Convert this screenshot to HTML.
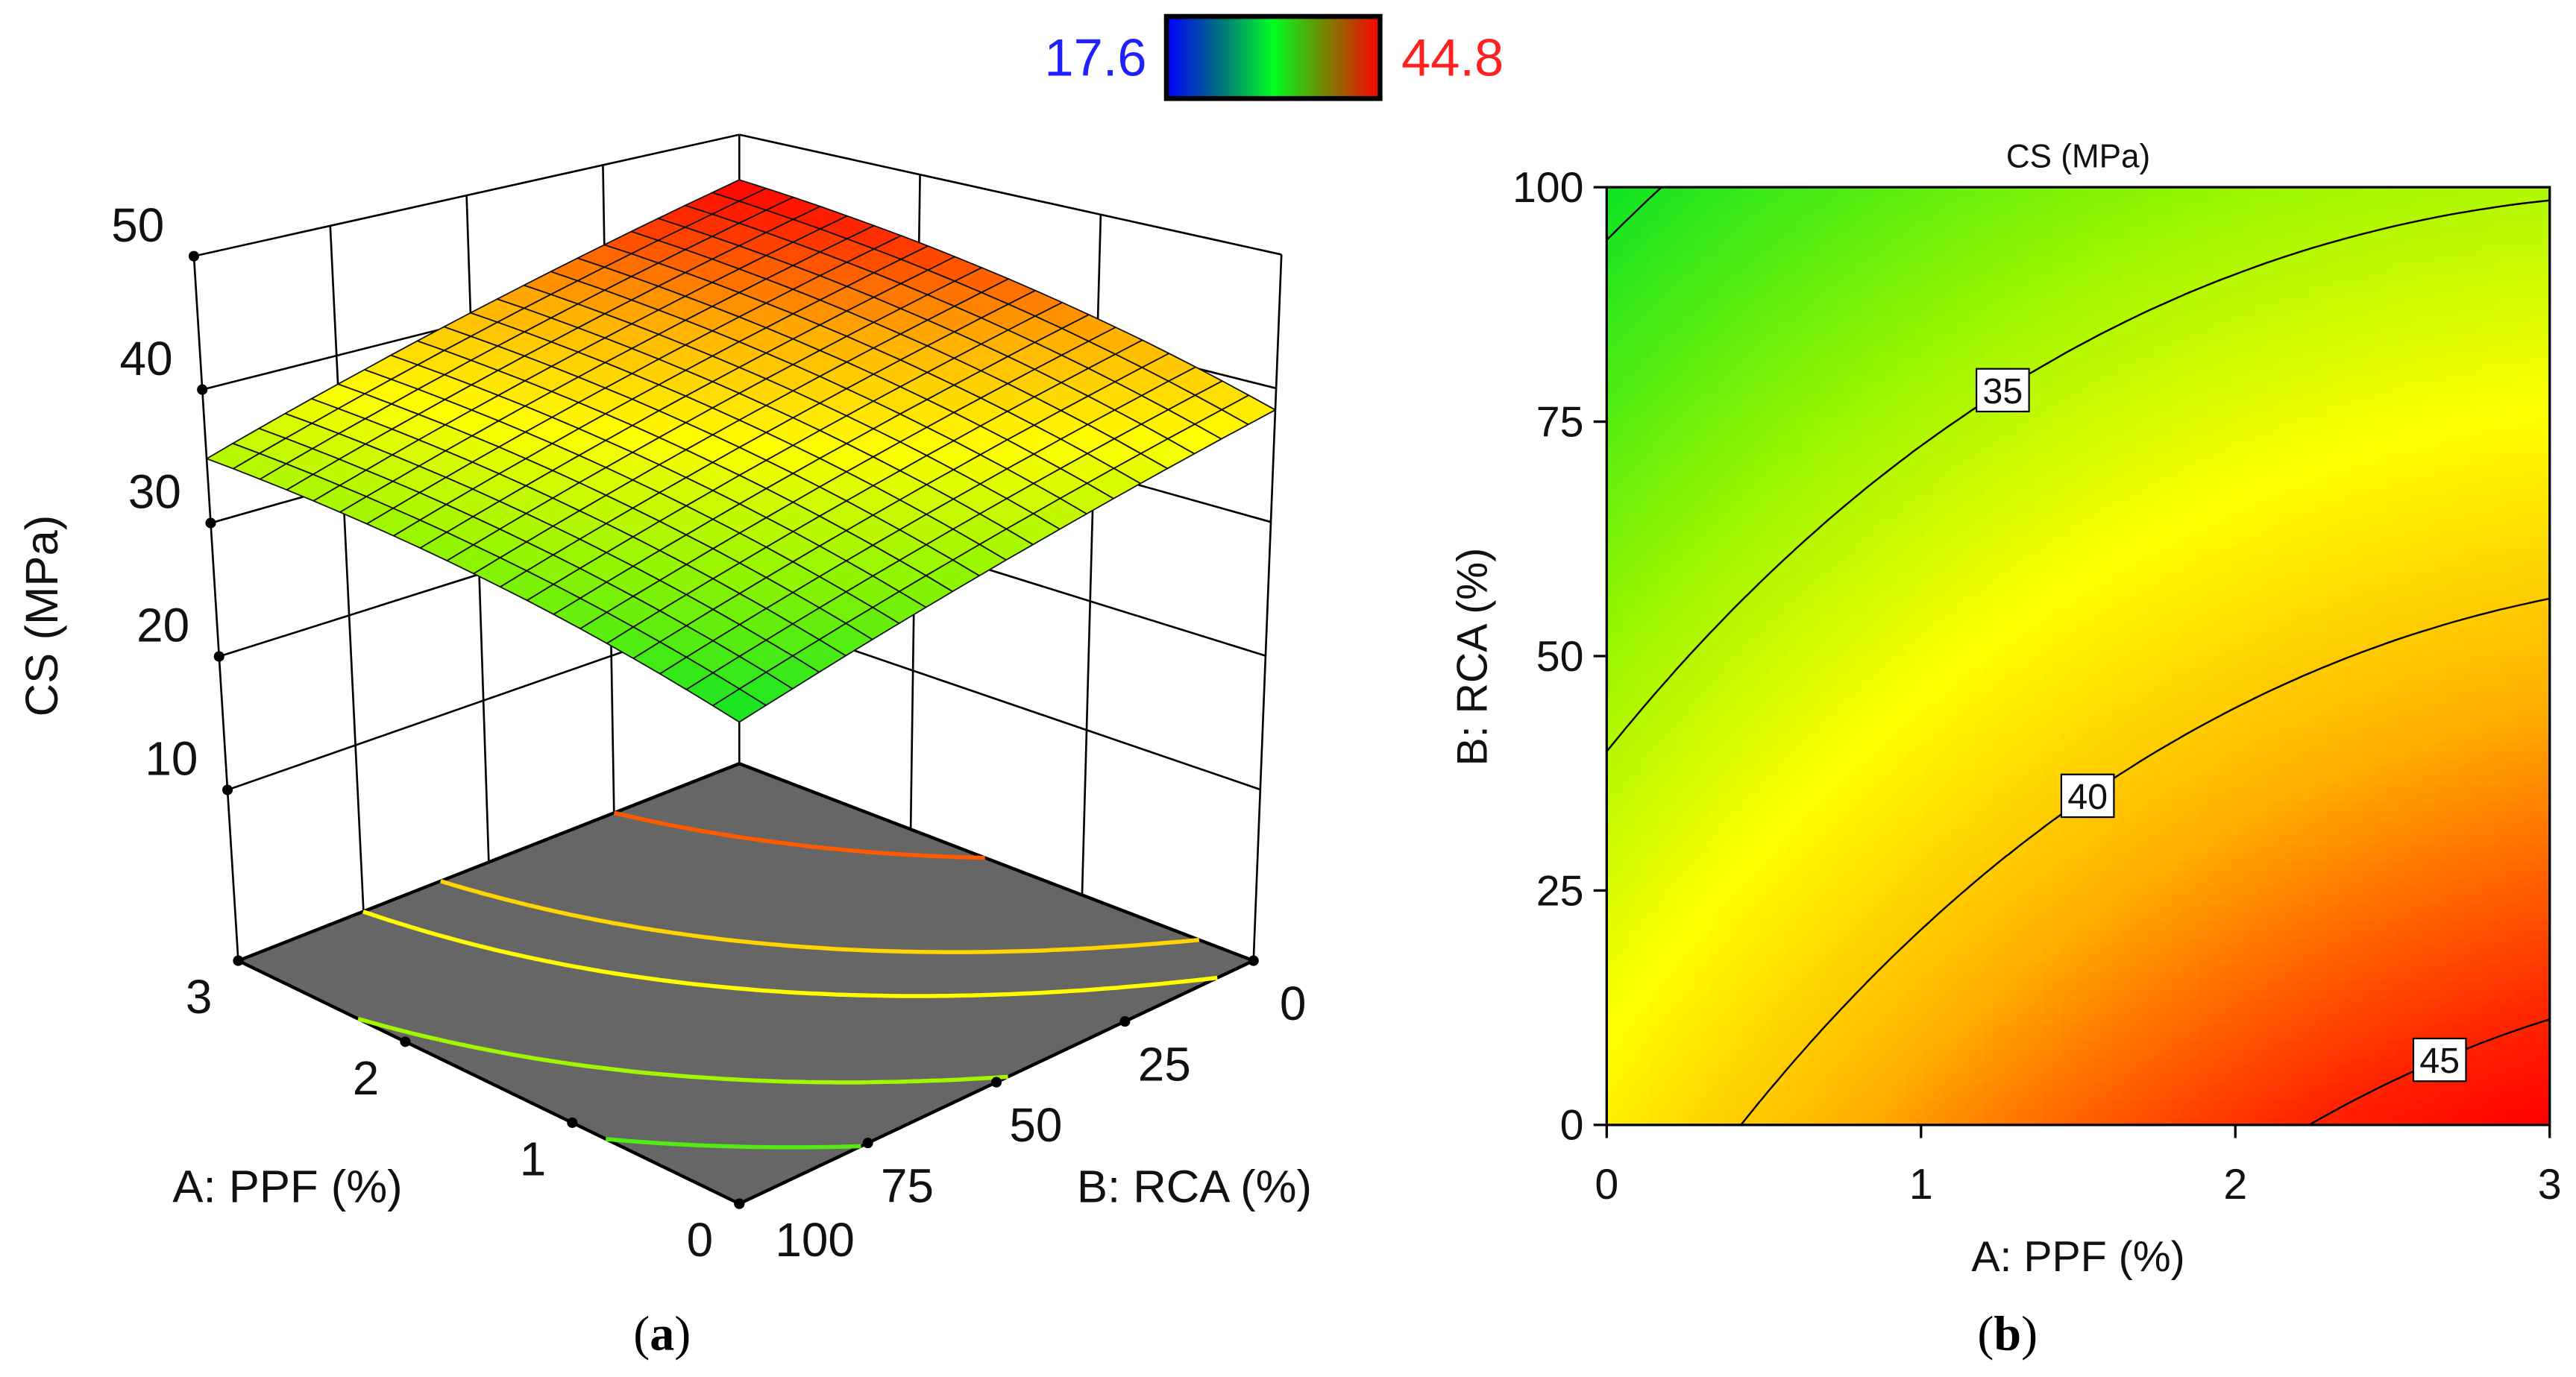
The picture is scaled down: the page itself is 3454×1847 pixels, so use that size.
<!DOCTYPE html>
<html><head><meta charset="utf-8">
<style>
html,body{margin:0;padding:0;background:#fff;}
svg{display:block;font-family:"Liberation Sans","DejaVu Sans",sans-serif;}
</style></head>
<body>
<svg id="root" width="3454" height="1847" viewBox="0 0 1568 838.5" xmlns="http://www.w3.org/2000/svg">
<defs>
<linearGradient id="cbar" x1="0" x2="1" y1="0" y2="0">
<stop offset="0" stop-color="#0000ff"/>
<stop offset="0.25" stop-color="#00707f"/>
<stop offset="0.5" stop-color="#00ff20"/>
<stop offset="0.75" stop-color="#7a8000"/>
<stop offset="1" stop-color="#ff0000"/>
</linearGradient>
</defs>
<g id="colorbar">
<text x="698" y="46" font-size="32" fill="#2020ff" text-anchor="end">17.6</text>
<rect x="710" y="10" width="130" height="50" fill="url(#cbar)" stroke="#000" stroke-width="3"/>
<text x="853" y="46" font-size="32" fill="#ff2020">44.8</text>
</g>
<g id="p3d"></g>
<g id="p2d"></g>
<text x="403" y="822" font-size="30" font-family="Liberation Serif, serif" text-anchor="middle">(<tspan font-weight="bold">a</tspan>)</text>
<text x="1222" y="822" font-size="30" font-family="Liberation Serif, serif" text-anchor="middle">(<tspan font-weight="bold">b</tspan>)</text>
</svg>
<script>
// ---- data ----
const A_VALS = [0, 1, 2, 3];
const B_VALS = [0, 25, 50, 75, 100];
const CS_A0 = [38.3, 36.6, 34.2, 31.8, 29.3];
const CS_A1 = [41.8, 39.4, 37.1, 34.7, 32.2];
const CS_A2 = [44.4, 42.1, 39.6, 36.9, 34.1];
const CS_A3 = [46.5, 43.4, 40.4, 37.8, 34.8];
const Z_TICKS = [10, 20, 30, 40, 50];
const A_TICKS = [0, 1, 2, 3];
const B_TICKS = [0, 25, 50, 75, 100];
const FLOOR_LEVELS = [31.7, 34.3, 37.8, 39.6, 43.5];
const CONTOUR_LEVELS = [30, 35, 40, 45];
const LABEL_LEVELS = [35, 40, 45];
const LABEL_AT_A = [1.26, 1.53, 2.65];
const CMIN = 17.6, CMAX = 44.8;

const NS = "http://www.w3.org/2000/svg";
function mk(tag, attrs, parent){const e=document.createElementNS(NS,tag);for(const k in attrs)e.setAttribute(k,attrs[k]);parent.appendChild(e);return e;}

const GRID=[CS_A0,CS_A1,CS_A2,CS_A3];
function basis(a,b){b=b/100;return [1,a,b,a*a,b*b,a*b];}
const M=[...Array(6)].map(()=>Array(7).fill(0));
A_VALS.forEach((a,i)=>B_VALS.forEach((b,j)=>{const f=basis(a,b);for(let r=0;r<6;r++){for(let c=0;c<6;c++)M[r][c]+=f[r]*f[c];M[r][6]+=f[r]*GRID[i][j];}}));
for(let c=0;c<6;c++){let p=c;for(let r=c+1;r<6;r++)if(Math.abs(M[r][c])>Math.abs(M[p][c]))p=r;[M[c],M[p]]=[M[p],M[c]];for(let r=0;r<6;r++){if(r===c)continue;const f=M[r][c]/M[c][c];for(let k=c;k<7;k++)M[r][k]-=f*M[c][k];}}
const COEF=M.map((r,i)=>r[6]/r[i]);
function cs(a,b){const f=basis(a,b);let s=0;for(let i=0;i<6;i++)s+=COEF[i]*f[i];return s;}

const STOPS=[[0,[0,0,255]],[0.2,[0,110,150]],[0.42,[0,225,40]],[0.6,[150,245,0]],[0.737,[255,255,0]],[0.87,[255,175,0]],[1,[255,40,0]],[1.05,[255,0,0]]];
function color(v){let t=(v-CMIN)/(CMAX-CMIN);t=Math.max(0,Math.min(1.05,t));for(let i=1;i<STOPS.length;i++){if(t<=STOPS[i][0]){const[t0,c0]=STOPS[i-1],[t1,c1]=STOPS[i];const u=(t-t0)/(t1-t0);return `rgb(${c0.map((c,k)=>Math.round(c+(c1[k]-c)*u)).join(',')})`;}}return 'rgb(255,0,0)';}

function contour(level,N){const segs=[];const da=3/N,db=100/N;for(let i=0;i<N;i++)for(let j=0;j<N;j++){const a0=i*da,b0=j*db;const pts=[[a0,b0],[a0+da,b0],[a0+da,b0+db],[a0,b0+db]];const v=pts.map(p=>cs(p[0],p[1]));const cr=[];for(let k=0;k<4;k++){const p=pts[k],q=pts[(k+1)%4],vp=v[k],vq=v[(k+1)%4];if((vp<level)!==(vq<level)){const u=(level-vp)/(vq-vp);cr.push([p[0]+(q[0]-p[0])*u,p[1]+(q[1]-p[1])*u]);}}if(cr.length===2)segs.push(cr);else if(cr.length===4){segs.push([cr[0],cr[1]]);segs.push([cr[2],cr[3]]);}}return segs;}

// ---------- 3D panel ----------
const g3=document.getElementById('p3d');
const ZF=-2.8, ZT=50;
const FL={R:[763,585],K:[450,465],F:[450,733],L:[145,585]};
const TP={R:[780,155],K:[450,82],F:[450,253],L:[118,156]};
function proj(a,b,z){const t=(z-ZF)/(ZT-ZF);const c={};for(const k in FL)c[k]=[FL[k][0]+(TP[k][0]-FL[k][0])*t,FL[k][1]+(TP[k][1]-FL[k][1])*t];const u=a/3,v=b/100;const w={R:(1-u)*(1-v),K:u*(1-v),F:(1-u)*v,L:u*v};let x=0,y=0;for(const k in w){x+=w[k]*c[k][0];y+=w[k]*c[k][1];}return [x,y];}
function line3(p,q,name){const e=mk('line',{x1:p[0],y1:p[1],x2:q[0],y2:q[1],stroke:'#000','stroke-width':1.2},g3);return e;}
line3(proj(3,100,ZF),proj(3,100,ZT),'z-axis-line');
line3(proj(3,0,ZF),proj(3,0,ZT),'back-corner-line');
line3(proj(0,0,ZF),proj(0,0,ZT),'right-wall-edge');
Z_TICKS.forEach(z=>{line3(proj(3,100,z),proj(3,0,z),'left-wall-gridline');line3(proj(3,0,z),proj(0,0,z),'right-wall-gridline');});
B_TICKS.slice(1,4).forEach(b=>line3(proj(3,b,ZF),proj(3,b,ZT),'left-wall-vertical'));
A_TICKS.slice(1,3).forEach(a=>line3(proj(a,0,ZF),proj(a,0,ZT),'right-wall-vertical'));
const fp=[proj(0,0,ZF),proj(3,0,ZF),proj(3,100,ZF),proj(0,100,ZF)];
const floor=mk('polygon',{points:fp.map(p=>p.join(',')).join(' '),fill:'#666666',stroke:'#000','stroke-width':2},g3);


FLOOR_LEVELS.forEach(lv=>{const segs=contour(lv,50);let d='';segs.forEach(s=>{const p=proj(s[0][0],s[0][1],ZF),q=proj(s[1][0],s[1][1],ZF);d+=`M${p[0].toFixed(1)},${p[1].toFixed(1)}L${q[0].toFixed(1)},${q[1].toFixed(1)}`;});const e=mk('path',{d:d,stroke:color(lv),'stroke-width':2.5,fill:'none'},g3);});
const NS_=20;const cells=[];
for(let i=0;i<NS_;i++)for(let j=0;j<NS_;j++){const a0=3*i/NS_,a1=3*(i+1)/NS_,b0=100*j/NS_,b1=100*(j+1)/NS_;cells.push({a0,a1,b0,b1,depth:(a0+a1)/6+1-(b0+b1)/200});}
cells.sort((x,y)=>y.depth-x.depth);
const gs=mk('g',{},g3);


cells.forEach(c=>{const pts=[[c.a0,c.b0],[c.a1,c.b0],[c.a1,c.b1],[c.a0,c.b1]].map(p=>proj(p[0],p[1],cs(p[0],p[1])));const v=cs((c.a0+c.a1)/2,(c.b0+c.b1)/2);const e=mk('polygon',{points:pts.map(p=>p[0].toFixed(1)+','+p[1].toFixed(1)).join(' '),fill:color(v),stroke:'#111','stroke-width':0.8,'stroke-linejoin':'round'},gs);});
function dot(p,name){const e=mk('circle',{cx:p[0],cy:p[1],r:3.2,fill:'#000'},g3);}
function txt(x,y,s,size,name,anchor,parent){const e=mk('text',{x:x,y:y,'font-size':size,'text-anchor':anchor||'middle',fill:'#111'},parent||g3);e.textContent=s;return e;}
Z_TICKS.forEach(z=>{const p=proj(3,100,z);dot(p,'z-tick');txt(p[0]-18,p[1]-9,String(z),29,'z-tick-label','end');});
A_TICKS.forEach(a=>{const p=proj(a,100,ZF);dot(p,'a-tick');txt(p[0]-24,p[1]+32,String(a),29,'a-tick-label','middle');});
B_TICKS.forEach(b=>{const p=proj(0,b,ZF);dot(p,'b-tick');txt(p[0]+(b===100?46:24),p[1]+(b===100?32:36),String(b),29,'b-tick-label','middle');});
const zt=txt(0,0,'CS (MPa)',28,'z-axis-title','middle');zt.setAttribute('transform','translate(35,375) rotate(-90)');
txt(175,732,'A: PPF (%)',28,'a-axis-title','middle');
txt(727,732,'B: RCA (%)',28,'b-axis-title','middle');

// ---------- 2D contour panel ----------
const g2=document.getElementById('p2d');
const X0=978,X1=1552,Y0=685,Y1=114;
function cx(a){return X0+(a/3)*(X1-X0);}
function cy(b){return Y0-(b/100)*(Y0-Y1);}
const NH=110;const hm=mk('g',{'shape-rendering':'crispEdges'},g2);


for(let i=0;i<NH;i++)for(let j=0;j<NH;j++){const a0=3*i/NH,a1=3*(i+1)/NH,b0=100*j/NH,b1=100*(j+1)/NH;const x=cx(a0),y=cy(b1);const e=mk('rect',{x:x.toFixed(2),y:y.toFixed(2),width:(cx(a1)-x+0.6).toFixed(2),height:(cy(b0)-y+0.6).toFixed(2),fill:color(cs((a0+a1)/2,(b0+b1)/2))},hm);}
CONTOUR_LEVELS.forEach(lv=>{const segs=contour(lv,80);let d='';segs.forEach(s=>{d+=`M${cx(s[0][0]).toFixed(1)},${cy(s[0][1]).toFixed(1)}L${cx(s[1][0]).toFixed(1)},${cy(s[1][1]).toFixed(1)}`;});const e=mk('path',{d:d,stroke:'#000','stroke-width':1.1,fill:'none'},g2);});
LABEL_LEVELS.forEach((lv,k)=>{const a=LABEL_AT_A[k];let lo=0,hi=100;for(let it=0;it<40;it++){const m=(lo+hi)/2;if(cs(a,m)>lv)lo=m;else hi=m;}const x=cx(a),y=cy((lo+hi)/2);const g=mk('g',{},g2);mk('rect',{x:x-16,y:y-13,width:32,height:26,fill:'#fff',stroke:'#000','stroke-width':1},g);txt(x,y+8,String(lv),22,'contour-label-text','middle',g);});
const fr=mk('rect',{x:X0,y:Y1,width:X1-X0,height:Y0-Y1,fill:'none',stroke:'#000','stroke-width':1.5},g2);


A_TICKS.forEach(a=>{const e=mk('line',{x1:cx(a),x2:cx(a),y1:Y0,y2:Y0+8,stroke:'#000','stroke-width':1.5},g2);txt(cx(a),Y0+45,String(a),26,'x-tick-label','middle',g2);});
B_TICKS.forEach(b=>{const e=mk('line',{x1:X0-8,x2:X0,y1:cy(b),y2:cy(b),stroke:'#000','stroke-width':1.5},g2);txt(X0-14,cy(b)+9,String(b),26,'y-tick-label','end',g2);});
txt(1265,774,'A: PPF (%)',26,'x-axis-title','middle',g2);
const yt=txt(0,0,'B: RCA (%)',26,'y-axis-title','middle',g2);yt.setAttribute('transform','translate(905,400) rotate(-90)');
txt(1265,102,'CS (MPa)',20,'plot-title','middle',g2);
</script>
</body></html>
